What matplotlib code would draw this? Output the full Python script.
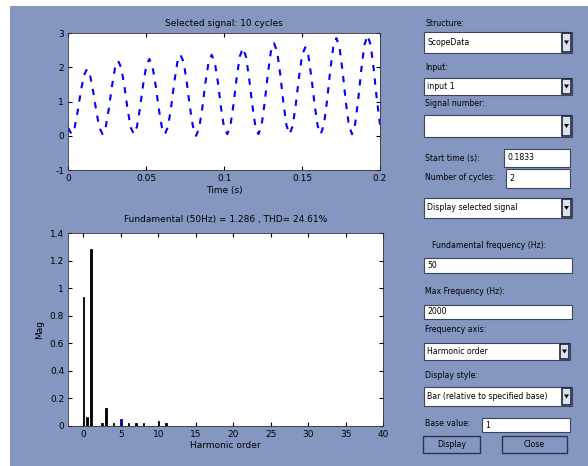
import numpy as np
import matplotlib
matplotlib.use('Agg')
import matplotlib.pyplot as plt
from matplotlib.patches import Rectangle, Polygon

plt.rcParams['axes.unicode_minus'] = False

# ---- data ----
t_start, t_end = 0.0, 0.2
signal = [0.23,
          0.05, 0.23, 0.71, 1.29, 1.77, 1.95, 1.77, 1.29, 0.71, 0.23,
          0.05, 0.25, 0.79, 1.45, 1.99, 2.19, 1.99, 1.45, 0.79, 0.25,
          0.05, 0.26, 0.81, 1.49, 2.04, 2.25, 2.04, 1.49, 0.81, 0.26,
          0.05, 0.27, 0.85, 1.57, 2.16, 2.37, 2.16, 1.57, 0.85, 0.27,
          0.00, 0.23, 0.82, 1.56, 2.15, 2.37, 2.15, 1.56, 0.82, 0.23,
          0.05, 0.29, 0.92, 1.69, 2.32, 2.57, 2.32, 1.69, 0.92, 0.29,
          0.05, 0.30, 0.97, 1.80, 2.47, 2.71, 2.47, 1.80, 0.97, 0.30,
          0.05, 0.29, 0.93, 1.71, 2.35, 2.59, 2.35, 1.71, 0.93, 0.29,
          0.05, 0.32, 1.02, 1.89, 2.59, 2.86, 2.59, 1.89, 1.02, 0.32,
          0.05, 0.33, 1.05, 1.94, 2.66, 2.94, 2.66, 1.94, 1.05, 0.33]
time = np.linspace(t_start, t_end, len(signal))

harmonic = [0, 0.5, 1, 2.5, 3, 4, 5, 6, 7, 8, 10, 11]
mag = [0.936, 0.064, 1.286, 0.02, 0.126, 0.02, 0.048, 0.02, 0.02, 0.02, 0.034, 0.02]
bar_cols = ['k'] * 6 + ['#0000c8'] + ['k'] * 5

top_xticks = [0, 0.05, 0.1, 0.15, 0.2]
top_xlabels = ['0', '0.05', '0.1', '0.15', '0.2']
top_yticks = [-1, 0, 1, 2, 3]
bot_xticks = [0, 5, 10, 15, 20, 25, 30, 35, 40]
bot_yticks = [0, 0.2, 0.4, 0.6, 0.8, 1, 1.2, 1.4]
bot_ylabels = ['0', '0.2', '0.4', '0.6', '0.8', '1', '1.2', '1.4']

top_title = 'Selected signal: 10 cycles'
bot_title = 'Fundamental (50Hz) = 1.286 , THD= 24.61%'

W, H = 588, 466
bg = '#8597c1'
fs = 6.5   # plot text
ufs = 5.6  # control text

fig = plt.figure(figsize=(W / 100, H / 100), dpi=100)
fig.patch.set_facecolor(bg)

# overlay for the GUI controls, pixel coords (y down)
ui = fig.add_axes([0, 0, 1, 1])
ui.set_xlim(0, W)
ui.set_ylim(H, 0)
ui.axis('off')
ui.add_patch(Rectangle((0, 0), W, 6, color='white', lw=0))
ui.add_patch(Rectangle((0, 0), 10, H, color='white', lw=0))


def label(x, y, s):
    ui.text(x, y, s, fontsize=ufs, va='center', ha='left', color='k')


def edit(x0, x1, y0, y1, s=''):
    ui.add_patch(Rectangle((x0, y0), x1 - x0, y1 - y0, facecolor='white',
                           edgecolor='#3a4660', lw=0.8))
    ui.text(x0 + 3, (y0 + y1) / 2, s, fontsize=ufs, va='center', ha='left')


def popup(x0, x1, y0, y1, s=''):
    ui.add_patch(Rectangle((x0, y0), x1 - x0, y1 - y0, facecolor='white',
                           edgecolor='#3a4660', lw=0.8))
    bx = x1 - 10
    ui.add_patch(Rectangle((bx, y0 + 1), 9, y1 - y0 - 2, facecolor='#dde2ee',
                           edgecolor='#1e2538', lw=1.2))
    cy = (y0 + y1) / 2
    ui.add_patch(Polygon([(bx + 2, cy - 2), (bx + 7, cy - 2), (bx + 4.5, cy + 2)],
                         closed=True, color='k', lw=0))
    ui.text(x0 + 3, cy, s, fontsize=ufs, va='center', ha='left')


def button(x0, x1, y0, y1, s):
    ui.add_patch(Rectangle((x0, y0), x1 - x0, y1 - y0, facecolor=bg,
                           edgecolor='#2a3350', lw=1.0))
    ui.text((x0 + x1) / 2, (y0 + y1) / 2, s, fontsize=ufs, va='center', ha='center')


label(425, 23, 'Structure:')
popup(424, 572, 32, 53, 'ScopeData')
label(425, 67, 'Input:')
popup(424, 572, 78, 95, 'input 1')
label(425, 103, 'Signal number:')
popup(424, 572, 115, 137, '')
label(425, 158, 'Start time (s):')
edit(504, 570, 149, 167, '0.1833')
label(425, 178, 'Number of cycles:')
edit(506, 570, 169, 188, '2')
popup(424, 572, 198, 218, 'Display selected signal')
label(432, 245, 'Fundamental frequency (Hz):')
edit(424, 572, 258, 273, '50')
label(425, 292, 'Max Frequency (Hz):')
edit(424, 572, 305, 319, '2000')
label(425, 330, 'Frequency axis:')
popup(424, 570, 343, 360, 'Harmonic order')
label(425, 375, 'Display style:')
popup(424, 572, 387, 406, 'Bar (relative to specified base)')
label(425, 424, 'Base value:')
edit(482, 570, 418, 432, '1')
button(423, 480, 436, 453, 'Display')
button(502, 567, 436, 453, 'Close')


def style(ax):
    ax.tick_params(direction='in', length=3, width=0.8, labelsize=fs,
                   top=True, right=True, pad=3)
    for s in ax.spines.values():
        s.set_linewidth(0.6)
        s.set_color('#333333')


# ---- top: signal ----
ax1 = fig.add_axes([68.3 / W, 1 - 170 / H, 311.7 / W, 136.7 / H])
ax1.plot(time, signal, color='#0000ff', lw=1.5, dashes=(3, 3.5))
ax1.set_xlim(0, 0.2)
ax1.set_ylim(-1, 3)
ax1.set_xticks(top_xticks)
ax1.set_xticklabels(top_xlabels)
ax1.set_yticks(top_yticks)
ax1.set_title(top_title, fontsize=fs, pad=5)
ax1.set_xlabel('Time (s)', fontsize=fs, labelpad=2)
style(ax1)

# ---- bottom: spectrum ----
ax2 = fig.add_axes([68.3 / W, 1 - 425.5 / H, 315 / W, 192.2 / H])
ax2.bar(harmonic, mag, width=0.2, color=bar_cols, edgecolor=bar_cols, lw=0.6)
ax2.set_xlim(-2, 40)
ax2.set_ylim(0, 1.4)
ax2.set_xticks(bot_xticks)
ax2.set_yticks(bot_yticks)
ax2.set_yticklabels(bot_ylabels)
ax2.set_title(bot_title, fontsize=fs, pad=8)
ax2.set_xlabel('Harmonic order', fontsize=fs, labelpad=2)
ax2.set_ylabel('Mag', fontsize=fs, labelpad=4)
style(ax2)

plt.savefig('out.png', dpi=100, facecolor=fig.get_facecolor())
